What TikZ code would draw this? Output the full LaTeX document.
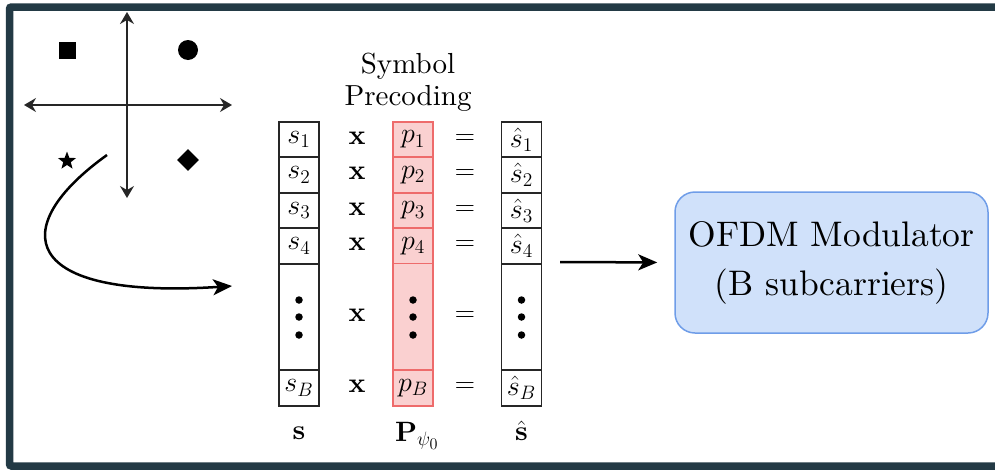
\RequirePackage{fix-cm}
\documentclass[tikz,border=0pt]{standalone}
\usepackage{fontspec}
\setmainfont{lmroman10-regular.otf}[BoldFont=lmroman10-bold.otf,ItalicFont=lmroman10-italic.otf]
\usepackage{amsmath}
\usepackage{graphicx}
\usetikzlibrary{shapes.geometric,arrows.meta}
\definecolor{framec}{HTML}{233A45}
\definecolor{pfill}{HTML}{FAD0D0}
\definecolor{pdraw}{HTML}{EE6B6B}
\definecolor{bfill}{HTML}{D0E1FA}
\definecolor{bdraw}{HTML}{6F9DE8}
\newcommand{\cellmath}[1]{\scalebox{1.35}{\fontsize{20.74}{24}\selectfont$#1$}}
\begin{document}
\begin{tikzpicture}[x=1pt,y=-1pt,
  cell/.style={draw=black!85,line width=1.7pt,minimum width=40pt,minimum height=35.5pt,inner sep=0pt},
  pcell/.style={cell,draw=pdraw,fill=pfill},
  dcell/.style={cell,minimum height=107pt},
  pdcell/.style={pcell,minimum height=107pt},
  op/.style={inner sep=0pt,font=\fontsize{28}{32}\selectfont},
  dotc/.style={circle,fill=black,inner sep=0pt,minimum size=7.5pt},
  axis/.style={line width=1.3pt,black!85,{Stealth[length=12pt,width=14pt,inset=4pt]}-{Stealth[length=12pt,width=14pt,inset=4pt]}},
  bigarrow/.style={line width=2.5pt,-{Stealth[length=19pt,width=16pt,inset=5pt]}},
  sym/.style={fill=black,inner sep=0pt}
]
\useasboundingbox (0,0) rectangle (995,469);
% frame
\draw[framec,line width=7.5pt,rounded corners=2pt] (1010,7) -- (9.5,7) -- (9.5,466) -- (1010,466);
% constellation
\coordinate (vt) at (127,12);
\coordinate (vb) at (127,198);
\coordinate (hl) at (24,105);
\coordinate (hr) at (232,105);
\draw[axis] (vt) -- (vb);
\draw[axis] (hl) -- (hr);
\node[sym,minimum size=17pt] (sq) at (67,50) {};
\node[sym,circle,minimum size=20pt] (ci) at (188,50) {};
\node[sym,star,star points=5,star point ratio=2.4,minimum size=19pt] (st) at (67,161) {};
\node[sym,diamond,minimum size=22pt] (di) at (188,160) {};
\coordinate (cs) at (107,155);
\coordinate (ce) at (232,286);
\draw[bigarrow] (cs) .. controls (5,228) and (20,300) .. (ce);
% title
\node[align=center,font=\fontsize{29}{32}\selectfont] (title) at (408,82.5) {Symbol\\Precoding};
% s column
\node[cell] (s1) at (299,139.5) {\cellmath{s_1}};
\node[cell] (s2) at (299,175) {\cellmath{s_2}};
\node[cell] (s3) at (299,210.5) {\cellmath{s_3}};
\node[cell] (s4) at (299,246) {\cellmath{s_4}};
\node[dcell] (sd) at (299,317) {};
\node[cell] (sB) at (299,388) {\cellmath{s_B}};
% p column
\node[pcell] (p1) at (413,139.5) {\cellmath{p_1}};
\node[pcell] (p2) at (413,175) {\cellmath{p_2}};
\node[pcell] (p3) at (413,210.5) {\cellmath{p_3}};
\node[pcell] (p4) at (413,246) {\cellmath{p_4}};
\node[pdcell] (pd) at (413,317) {};
\node[pcell] (pB) at (413,388) {\cellmath{p_B}};
% shat column
\node[cell] (h1) at (521.5,139.5) {\cellmath{\hat{s}_1}};
\node[cell] (h2) at (521.5,175) {\cellmath{\hat{s}_2}};
\node[cell] (h3) at (521.5,210.5) {\cellmath{\hat{s}_3}};
\node[cell] (h4) at (521.5,246) {\cellmath{\hat{s}_4}};
\node[dcell] (hd) at (521.5,317) {};
\node[cell] (hB) at (521.5,388) {\cellmath{\hat{s}_B}};
% dots
\foreach \c in {sd,pd,hd}{
  \node[dotc] (\c-a) at ([yshift=-18pt]\c.center) {};
  \node[dotc] (\c-b) at (\c.center) {};
  \node[dotc] (\c-c) at ([yshift=17pt]\c.center) {};
}
% operators
\foreach \r/\y in {1/138,2/173.5,3/209,4/244.5,d/315.5,B/386.5}{
  \node[op] (x\r) at (357,\y) {\textbf{x}};
  \node[op] (e\r) at (465,\y+1.5) {\cellmath{=}};
}
% labels
\node[op] (ls) at (299,433) {\cellmath{\mathbf{s}}};
\node[op] (lp) at (417,436) {\cellmath{\mathbf{P}_{\psi_0}}};
\node[op] (lh) at (521.5,431) {\cellmath{\hat{\mathbf{s}}}};
% OFDM
\node[draw=bdraw,fill=bfill,line width=1.5pt,rounded corners=20pt,minimum width=313pt,minimum height=141pt,align=center,font=\fontsize{35.5}{49}\selectfont] (ofdm) at (831.5,262.5) {OFDM Modulator\\(B subcarriers)};
\coordinate (as) at (560,262);
\draw[bigarrow,shorten >=17pt] (as) -- (ofdm.west);
\end{tikzpicture}
\end{document}
